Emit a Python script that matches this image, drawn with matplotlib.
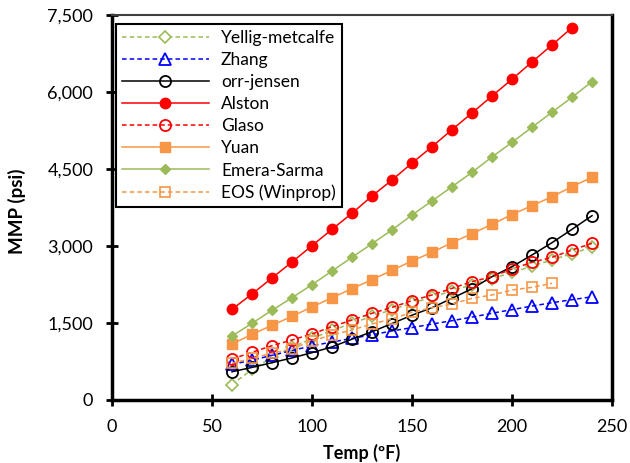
import matplotlib.pyplot as plt

temp = [60, 70, 80, 90, 100, 110, 120, 130, 140, 150, 160, 170, 180, 190, 200, 210, 220, 230, 240]

# MMP values (psi)
yellig = [300, 595, 830, 1025, 1200, 1355, 1495, 1630, 1760, 1885, 2005, 2125, 2245, 2365, 2485, 2605, 2730, 2850, 2980]
zhang = [695, 775, 870, 965, 1055, 1130, 1200, 1270, 1345, 1410, 1480, 1545, 1615, 1690, 1760, 1830, 1895, 1955, 2010]
orr_jensen = [550, 635, 727, 820, 922, 1035, 1185, 1330, 1490, 1652, 1798, 1981, 2168, 2402, 2597, 2825, 3065, 3325, 3591]
alston = [1767, 2065, 2377, 2688, 3006, 3325, 3637, 3974, 4286, 4615, 4935, 5266, 5591, 5922, 6248, 6585, 6916, 7253]
glaso = [799, 929, 1058, 1169, 1286, 1428, 1559, 1689, 1805, 1935, 2046, 2175, 2305, 2402, 2552, 2682, 2780, 2922, 3052]
yuan = [1091, 1279, 1455, 1630, 1812, 1993, 2169, 2344, 2526, 2708, 2877, 3065, 3240, 3423, 3613, 3786, 3961, 4155, 4339]
emera = [1247, 1494, 1748, 1993, 2246, 2513, 2780, 3045, 3313, 3604, 3877, 4155, 4435, 4734, 5020, 5313, 5605, 5897, 6202]
eos = [715, 812, 910, 994, 1155, 1266, 1364, 1481, 1578, 1710, 1798, 1870, 1981, 2046, 2143, 2195, 2273]

green = '#9BBB59'
orange = '#F79646'

plt.rcParams['font.family'] = ['Lato', 'DejaVu Sans']

fig = plt.figure(figsize=(6.3, 4.63), dpi=100)
ax = fig.add_axes([112/630, 1-400/463, 500/630, 385/463])

dash = (3, 2)
ax.plot(temp, yellig, color=green, lw=1.1, dashes=dash, marker='D', ms=6, mfc='white', mec=green, mew=1.2, label='Yellig-metcalfe')
ax.plot(temp, zhang, color='#0000FF', lw=1.1, dashes=dash, marker='^', ms=8, mfc='none', mec='#0000FF', mew=1.3, label='Zhang')
ax.plot(temp, orr_jensen, color='black', lw=1.1, marker='o', ms=8, mfc='none', mec='black', mew=1.3, label='orr-jensen')
ax.plot(temp[:18], alston, color='#FF0000', lw=1.1, marker='o', ms=7.5, mfc='#FF0000', mec='#FF0000', label='Alston')
ax.plot(temp, glaso, color='#FF0000', lw=1.1, dashes=dash, marker='o', ms=8, mfc='none', mec='#FF0000', mew=1.3, label='Glaso')
ax.plot(temp, yuan, color=orange, lw=1.1, marker='s', ms=7, mfc=orange, mec=orange, label='Yuan')
ax.plot(temp, emera, color=green, lw=1.1, marker='D', ms=5, mfc=green, mec=green, label='Emera-Sarma')
ax.plot(temp[:17], eos, color=orange, lw=1.1, dashes=dash, marker='s', ms=7, mfc='none', mec=orange, mew=1.2, label='EOS (Winprop)')

ax.set_xlim(0, 250)
ax.set_ylim(0, 7500)
ax.set_xticks([0, 50, 100, 150, 200, 250])
ax.set_yticks([0, 1500, 3000, 4500, 6000, 7500])
ax.set_yticklabels(['0', '1,500', '3,000', '4,500', '6,000', '7,500'])
ax.tick_params(direction='inout', length=9, width=2, labelsize=13, pad=9)

for side in ['left', 'bottom', 'right']:
    ax.spines[side].set_linewidth(2.5)
ax.spines['top'].set_linewidth(1.5)
ax.spines['top'].set_color('#404040')

ax.set_xlabel('Temp (ºF)', fontsize=13, fontweight='bold')
ax.set_ylabel('MMP (psi)', fontsize=13.5, fontweight='bold')
ax.xaxis.set_label_coords(0.5, -0.113)
ax.yaxis.set_label_coords(-0.172, 0.49)

leg = ax.legend(loc='upper left', bbox_to_anchor=(116/630, 1-24/463), bbox_transform=fig.transFigure,
                borderaxespad=0, fontsize=12.5, handlelength=5.0, numpoints=1, fancybox=False,
                frameon=True, edgecolor='black', framealpha=1, labelspacing=0.35, handletextpad=0.7,
                borderpad=0.35)
leg.get_frame().set_linewidth(1.5)

fig.savefig('out.png', dpi=100)
